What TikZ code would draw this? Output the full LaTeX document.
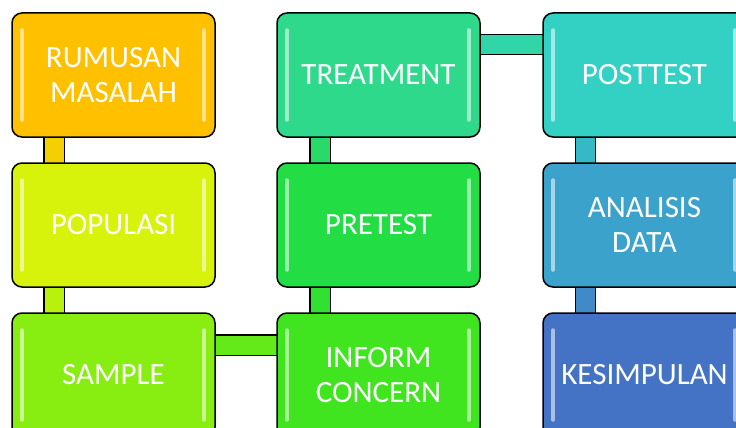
\documentclass[tikz,border=0pt]{standalone}
\usepackage{fontspec}
\setmainfont{Carlito}
\usetikzlibrary{backgrounds}

\definecolor{rumusanC}{HTML}{FFC000}
\definecolor{populasiC}{HTML}{D8F30B}
\definecolor{sampleC}{HTML}{88EE11}
\definecolor{informC}{HTML}{40E520}
\definecolor{pretestC}{HTML}{22DD44}
\definecolor{treatmentC}{HTML}{2ED98C}
\definecolor{posttestC}{HTML}{33D1C4}
\definecolor{analisisC}{HTML}{3AA2CB}
\definecolor{kesimpulanC}{HTML}{4472C4}

\begin{document}
\begin{tikzpicture}[x=1pt,y=1pt,
    box/.style={draw=black,line width=1.5pt,rounded corners=10pt,fill=#1,
        minimum width=203pt,minimum height=124pt,inner sep=0pt,
        text=white,align=center,font=\fontsize{31}{35}\selectfont,
        path picture={
            \draw[white,opacity=0.55,line width=3.5pt,line cap=round]
                ([xshift=10pt,yshift=-17pt]path picture bounding box.north west) --
                ([xshift=10pt,yshift=17pt]path picture bounding box.south west);
            \draw[white,opacity=0.55,line width=3.5pt,line cap=round]
                ([xshift=-11pt,yshift=-17pt]path picture bounding box.north east) --
                ([xshift=-11pt,yshift=17pt]path picture bounding box.south east);
        }},
    bar/.style={draw=black,line width=1.3pt,double=#1,double distance=19pt}]
    \useasboundingbox (0,0) rectangle (736,-428);

    \node[box=rumusanC] (rumusan) at (113.5,-75) {RUMUSAN\\MASALAH};
    \node[box=populasiC] (populasi) at (113.5,-225) {POPULASI};
    \node[box=sampleC] (sample) at (113.5,-375) {SAMPLE};
    \node[box=informC] (inform) at (378.5,-375) {INFORM\\CONCERN};
    \node[box=pretestC] (pretest) at (378.5,-225) {PRETEST};
    \node[box=treatmentC] (treatment) at (378.5,-75) {TREATMENT};
    \node[box=posttestC] (posttest) at (644.5,-75) {POSTTEST};
    \node[box=analisisC] (analisis) at (644.5,-225) {ANALISIS\\DATA};
    \node[box=kesimpulanC] (kesimpulan) at (644.5,-375) {KESIMPULAN};

    \begin{scope}[on background layer]
        \draw[bar=rumusanC!70!populasiC] ([xshift=-59.5pt,yshift=6pt]rumusan.south) -- ([xshift=-59.5pt,yshift=-6pt]populasi.north);
        \draw[bar=populasiC!60!sampleC] ([xshift=-59.5pt,yshift=6pt]populasi.south) -- ([xshift=-59.5pt,yshift=-6pt]sample.north);
        \draw[bar=sampleC!50!informC] ([xshift=-6pt,yshift=30pt]sample.east) -- ([xshift=6pt,yshift=30pt]inform.west);
        \draw[bar=informC!50!pretestC] ([xshift=-58.5pt,yshift=-6pt]inform.north) -- ([xshift=-58.5pt,yshift=6pt]pretest.south);
        \draw[bar=pretestC!50!treatmentC] ([xshift=-58.5pt,yshift=-6pt]pretest.north) -- ([xshift=-58.5pt,yshift=6pt]treatment.south);
        \draw[bar=treatmentC!50!posttestC] ([xshift=-6pt,yshift=30.5pt]treatment.east) -- ([xshift=6pt,yshift=30.5pt]posttest.west);
        \draw[bar=posttestC!50!analisisC] ([xshift=-59pt,yshift=6pt]posttest.south) -- ([xshift=-59pt,yshift=-6pt]analisis.north);
        \draw[bar=analisisC!50!kesimpulanC] ([xshift=-59pt,yshift=6pt]analisis.south) -- ([xshift=-59pt,yshift=-6pt]kesimpulan.north);
    \end{scope}
\end{tikzpicture}
\end{document}
